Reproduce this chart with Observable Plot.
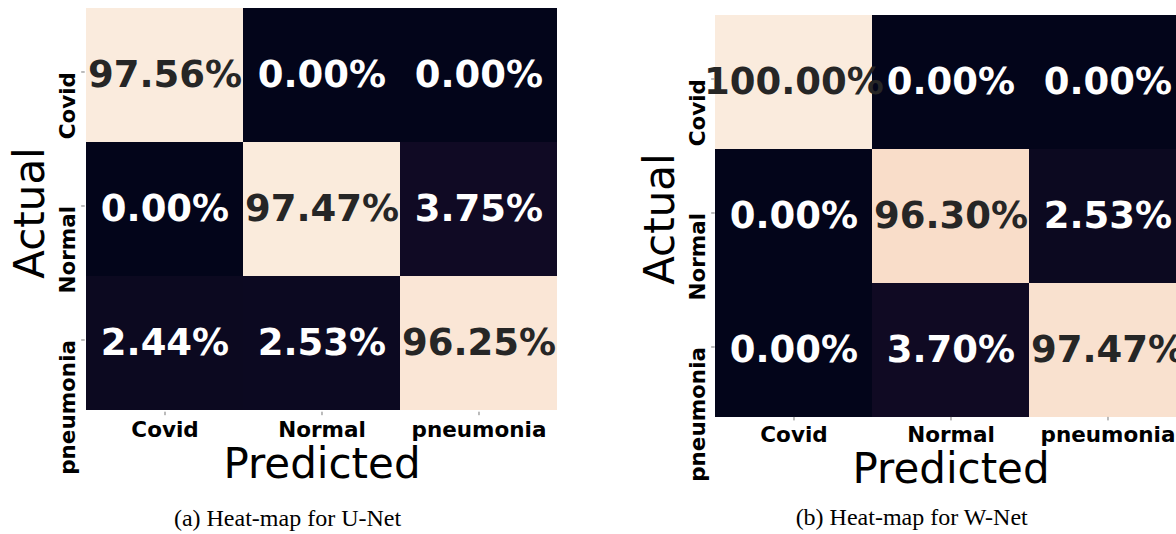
<!DOCTYPE html>
<html>
<head>
<meta charset="utf-8">
<script src="https://cdn.jsdelivr.net/npm/d3@7"></script>
<script src="https://cdn.jsdelivr.net/npm/@observablehq/plot@0.6"></script>
<style>
html, body { margin: 0; padding: 0; background: #fff; overflow: hidden; }
#root { position: relative; width: 1176px; height: 534px; overflow: hidden; background: #fff; }
.panel { position: absolute; }
.caption {
  position: absolute;
  font-family: "Liberation Serif", "Times New Roman", serif;
  font-size: 24px;
  line-height: 1;
  color: #000;
  white-space: nowrap;
  transform: translateX(-50%);
}
</style>
</head>
<body>
<div id="root"></div>
<script>
// ---- data ----
const classes = ["Covid", "Normal", "pneumonia"];          // actual (rows) and predicted (columns)
const unetValues = [                                        // rows: actual, columns: predicted (%)
  [97.56, 0.00, 0.00],
  [0.00, 97.47, 3.75],
  [2.44, 2.53, 96.25]
];
const wnetValues = [
  [100.00, 0.00, 0.00],
  [0.00, 96.30, 2.53],
  [0.00, 3.70, 97.47]
];
const captions = ["(a) Heat-map for U-Net", "(b) Heat-map for W-Net"];
const xTitle = "Predicted";
const yTitle = "Actual";

// seaborn "rocket"-like colormap stops (uniform)
const rocket = ["#03051a", "#35193e", "#701f57", "#ad1759", "#e13342", "#f37651", "#f6b48f", "#faebdd"];

function toRows(values) {
  const rows = [];
  values.forEach((row, i) => row.forEach((v, j) => rows.push({actual: classes[i], predicted: classes[j], value: v})));
  return rows;
}

function heatmap(values, frameW, frameH) {
  const data = toRows(values);
  const max = d3.max(data, d => d.value);
  const mL = 84.7, mT = 7.3, mR = 30, mB = 80;
  const fmt = d => d3.format(".2f")(d.value) + "%";
  return Plot.plot({
    width: mL + frameW + mR,
    height: mT + frameH + mB,
    marginLeft: mL, marginTop: mT, marginRight: mR, marginBottom: mB,
    style: {fontFamily: "'DejaVu Sans', sans-serif", background: "transparent", color: "#000", overflow: "visible"},
    x: {domain: classes, padding: 0, axis: null, label: null},
    y: {domain: classes, padding: 0, axis: null, label: null},
    color: {type: "linear", domain: [0, max], interpolate: d3.piecewise(d3.interpolateRgb, rocket)},
    marks: [
      Plot.cell(data, {x: "predicted", y: "actual", fill: "value", shapeRendering: "crispEdges"}),
      Plot.text(data.filter(d => d.value / max >= 0.5), {x: "predicted", y: "actual", text: fmt, fill: "#262626", fontSize: 37, fontWeight: "bold"}),
      Plot.text(data.filter(d => d.value / max < 0.5), {x: "predicted", y: "actual", text: fmt, fill: "#ffffff", fontSize: 37, fontWeight: "bold"}),
      Plot.axisX({anchor: "bottom", tickSize: 3.5, tickPadding: 6, stroke: "#777", fontSize: 21.5, fontWeight: "bold", label: null}),
      Plot.axisY({anchor: "left", tickSize: 3.5, tickPadding: 6.5, stroke: "#777", tickRotate: -90, textAnchor: "end", lineAnchor: "bottom", dy: -3.5, fontSize: 21.5, fontWeight: "bold", label: null}),
      Plot.text([xTitle], {text: d => d, frameAnchor: "bottom", textAnchor: "middle", lineAnchor: "bottom", dy: 65.6, fontSize: 42}),
      Plot.text([yTitle], {text: d => d, frameAnchor: "left", textAnchor: "middle", lineAnchor: "bottom", rotate: -90, dx: -41.2, dy: 3, fontSize: 42})
    ]
  });
}

const root = document.getElementById("root");

const left = heatmap(unetValues, 473.6, 404.4);
left.classList.add("panel");
left.style.left = "0px";
left.style.top = "0px";
root.appendChild(left);

const right = heatmap(wnetValues, 471.7, 402.6);
right.classList.add("panel");
right.style.left = "629.6px";
right.style.top = "7.4px";
root.appendChild(right);

[[captions[0], 287.5, 506], [captions[1], 911.7, 505]].forEach(([t, cx, top]) => {
  const div = document.createElement("div");
  div.className = "caption";
  div.textContent = t;
  div.style.left = cx + "px";
  div.style.top = top + "px";
  root.appendChild(div);
});
</script>
</body>
</html>
